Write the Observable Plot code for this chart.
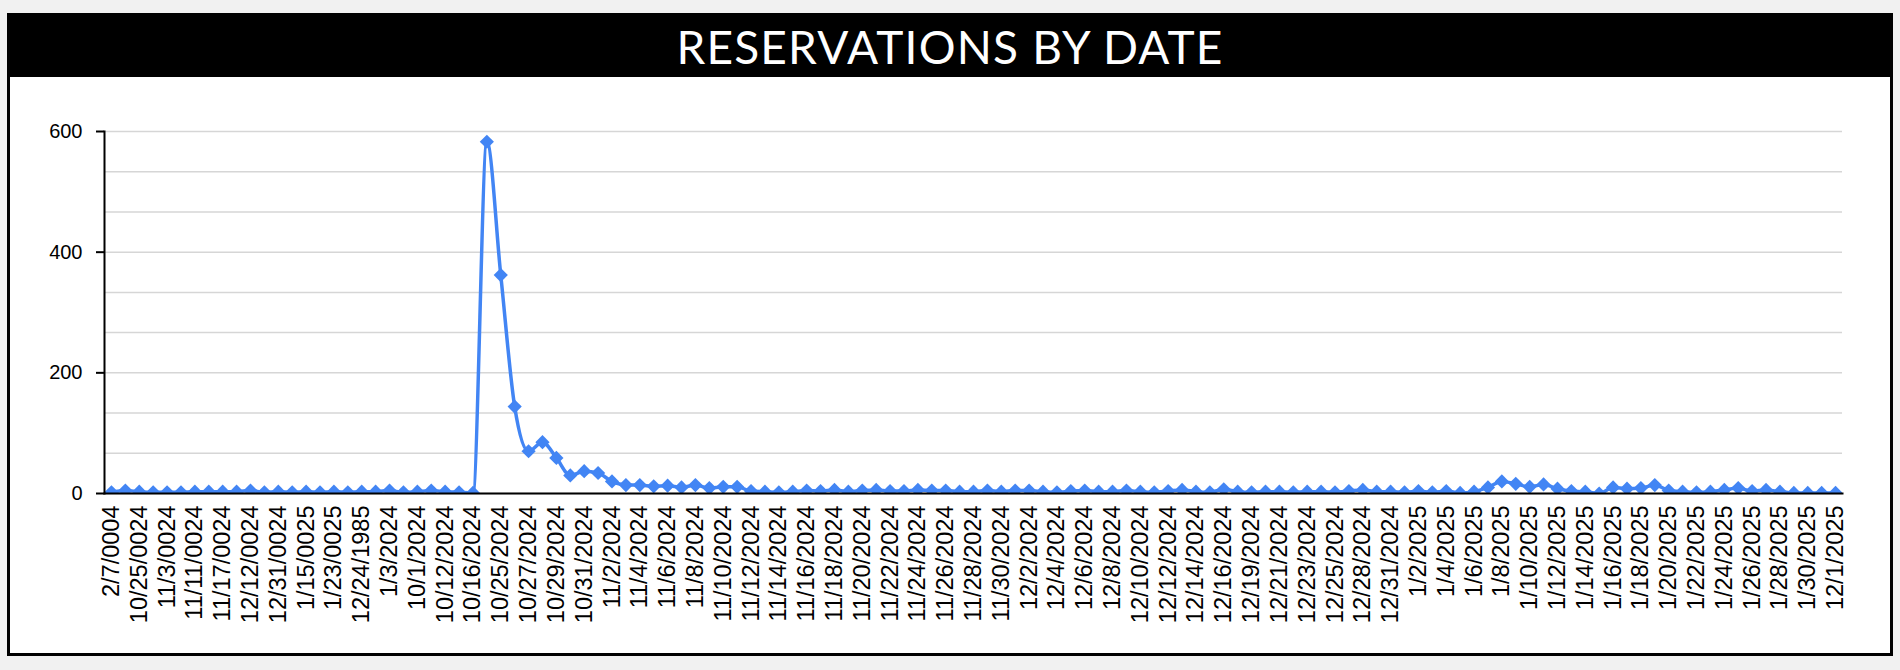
<!DOCTYPE html>
<html><head><meta charset="utf-8">
<script src="https://cdn.jsdelivr.net/npm/d3@7"></script>
<script src="https://cdn.jsdelivr.net/npm/@observablehq/plot@0.6"></script>
<style>
html,body{margin:0;padding:0}
body{background:#f1f1f1;width:1900px;height:670px;overflow:hidden;position:relative;font-family:Arial,"Liberation Sans",sans-serif}
#card{position:absolute;left:7px;top:13px;width:1880px;height:637px;border:3px solid #000;background:#fff}
#title{position:absolute;left:0;top:0;width:100%;height:61px;background:#000;color:#fff;font-family:Lato,"Open Sans",sans-serif;font-weight:400;font-size:46px;line-height:62px;text-align:center;letter-spacing:1.2px}
#chart{position:absolute;left:0;top:78px;z-index:2}
</style></head>
<body>
<div id="card"><div id="title">RESERVATIONS BY DATE</div></div>
<div id="chart"></div>
<script>
const dates = [
"2/7/0004","10/24/0024","10/25/0024","11/1/0024","11/3/0024","11/8/0024","11/11/0024","11/15/0024","11/17/0024","12/5/0024",
"12/12/0024","12/20/0024","12/31/0024","1/10/0025","1/15/0025","1/20/0025","1/23/0025","11/2/1924","12/24/1985","10/30/2023",
"1/3/2024","5/15/2024","10/1/2024","10/8/2024","10/12/2024","10/14/2024","10/16/2024","10/24/2024","10/25/2024","10/26/2024",
"10/27/2024","10/28/2024","10/29/2024","10/30/2024","10/31/2024","11/1/2024","11/2/2024","11/3/2024","11/4/2024","11/5/2024",
"11/6/2024","11/7/2024","11/8/2024","11/9/2024","11/10/2024","11/11/2024","11/12/2024","11/13/2024","11/14/2024","11/15/2024",
"11/16/2024","11/17/2024","11/18/2024","11/19/2024","11/20/2024","11/21/2024","11/22/2024","11/23/2024","11/24/2024","11/25/2024",
"11/26/2024","11/27/2024","11/28/2024","11/29/2024","11/30/2024","12/1/2024","12/2/2024","12/3/2024","12/4/2024","12/5/2024",
"12/6/2024","12/7/2024","12/8/2024","12/9/2024","12/10/2024","12/11/2024","12/12/2024","12/13/2024","12/14/2024","12/15/2024",
"12/16/2024","12/18/2024","12/19/2024","12/20/2024","12/21/2024","12/22/2024","12/23/2024","12/24/2024","12/25/2024","12/27/2024",
"12/28/2024","12/30/2024","12/31/2024","1/1/2025","1/2/2025","1/3/2025","1/4/2025","1/5/2025","1/6/2025","1/7/2025",
"1/8/2025","1/9/2025","1/10/2025","1/11/2025","1/12/2025","1/13/2025","1/14/2025","1/15/2025","1/16/2025","1/17/2025",
"1/18/2025","1/19/2025","1/20/2025","1/21/2025","1/22/2025","1/23/2025","1/24/2025","1/25/2025","1/26/2025","1/27/2025",
"1/28/2025","1/29/2025","1/30/2025","1/31/2025","12/1/2025"
];
const reservations = [
2,5,3,2,2,2,3,3,3,3,
5,2,3,2,3,2,3,2,3,3,
5,2,3,5,3,2,1,583,362,144,
70,85,59,30,37,34,20,14,14,12,
13,10,14,9,11,11,4,3,2,3,
5,4,6,3,5,6,4,4,6,5,
5,3,3,5,3,5,5,3,2,4,
5,3,3,5,3,2,4,6,3,2,
7,3,2,3,3,2,3,3,2,4,
6,3,3,2,4,2,4,1,3,10,
20,16,11,15,8,4,3,0,10,8,
9,14,5,3,2,3,6,9,4,6,
3,1,1,1,1
];
const xTickLabels = dates.filter((d, i) => i % 2 === 0);
const yTicks = [0, 200, 400, 600];
const gridValues = [0, 200/3, 400/3, 200, 800/3, 1000/3, 400, 1400/3, 1600/3, 600];

const rows = dates.map((d, i) => ({date: d, value: reservations[i]}));

const chart = Plot.plot({
  width: 1900, height: 572,
  marginLeft: 104, marginRight: 58, marginTop: 53, marginBottom: 157,
  style: {fontFamily: "Arial, 'Liberation Sans', sans-serif", fontSize: "20px", color: "#000", background: "transparent", overflow: "visible"},
  x: {type: "point", domain: dates, padding: 0.5},
  y: {domain: [0, 600]},
  marks: [
    Plot.ruleY(gridValues, {stroke: "#d6d6d6", strokeWidth: 1.5}),
    Plot.axisY({ticks: yTicks, tickSize: 8, tickPadding: 14, label: null, stroke: "#000", strokeWidth: 2, fontSize: 20}),
    Plot.axisX({ticks: xTickLabels, tickRotate: -90, tickSize: 0, tickPadding: 12, label: null, fontSize: 23.5}),
    Plot.lineY(rows, {x: "date", y: "value", stroke: "#4285f4", strokeWidth: 3.5, curve: "monotone-x", clip: "frame"}),
    Plot.dot(rows, {x: "date", y: "value", symbol: "diamond2", r: 6.4, fill: "#4285f4", stroke: "none", clip: "frame"}),
    Plot.frame({anchor: "left", stroke: "#000", strokeWidth: 2}),
    Plot.frame({anchor: "bottom", stroke: "#000", strokeWidth: 2})
  ]
});
document.getElementById("chart").appendChild(chart);
</script>
</body></html>
